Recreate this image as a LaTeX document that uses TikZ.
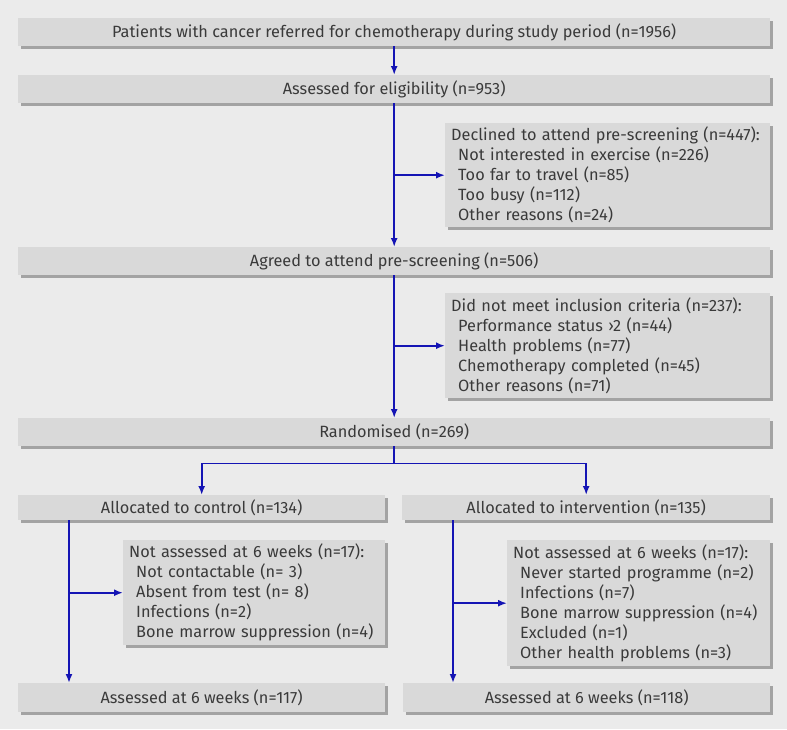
\documentclass[tikz,border=0pt]{standalone}
\usepackage{fontspec}
\setmainfont{Fira Sans}
\usetikzlibrary{arrows.meta,positioning,calc,shadows}
\definecolor{bgG}{HTML}{EBEBEB}
\definecolor{boxG}{HTML}{D9D9D9}
\definecolor{shdG}{HTML}{A3A3A3}
\definecolor{flowB}{HTML}{1414B4}
\definecolor{txtG}{HTML}{3A3A3A}
\newcommand{\boxfont}{\fontsize{16.3}{20}\selectfont}
\newcommand{\reason}{\hspace*{7pt}}
\tikzset{
  stage/.style={fill=boxG, text=txtG, inner sep=0pt, anchor=north west, font=\boxfont,
    drop shadow={shadow xshift=3pt, shadow yshift=-3pt, fill=shdG, opacity=1}},
  wide/.style={stage, minimum width=752, minimum height=28},
  half/.style={stage, minimum width=367, minimum height=#1},
  listbox/.style={stage, align=left, inner xsep=6pt},
  flow/.style={-{Latex[length=9pt,width=7pt]}, line width=1.8pt, flowB},
  link/.style={line width=1.8pt, flowB},
}

\begin{document}
\begin{tikzpicture}[x=1pt,y=-1pt]
\useasboundingbox[fill=bgG] (0,0) rectangle (787,729);

% ===================== enrolment ========================
\node[wide] (screened) at (18,18) {Patients with cancer referred for chemotherapy during study period (n=1956)};
\node[wide] (eligible) at (18,75) {Assessed for eligibility (n=953)};
\node[listbox, text width=313, minimum height=104] (declined) at (445,123)
  {Declined to attend pre-screening (n=447):\\
   \reason Not interested in exercise (n=226)\\
   \reason Too far to travel (n=85)\\
   \reason Too busy (n=112)\\
   \reason Other reasons (n=24)};
\node[wide] (agreed) at (18,247) {Agreed to attend pre-screening (n=506)};
\node[listbox, text width=313, minimum height=105] (excluded) at (445,293)
  {Did not meet inclusion criteria (n=237):\\
   \reason Performance status ›2 (n=44)\\
   \reason Health problems (n=77)\\
   \reason Chemotherapy completed (n=45)\\
   \reason Other reasons (n=71)};
\node[wide] (randomised) at (18,418) {Randomised (n=269)};

% ===================== allocation ========================
\node[half=25] (control) at (18,495) {Allocated to control (n=134)};
\node[half=25, minimum width=368] (intervention) at (402,495) {Allocated to intervention (n=135)};
\node[listbox, text width=250, minimum height=105] (lostC) at (123,540)
  {Not assessed at 6 weeks (n=17):\\
   \reason Not contactable (n= 3)\\
   \reason Absent from test (n= 8)\\
   \reason Infections (n=2)\\
   \reason Bone marrow suppression (n=4)};
\node[listbox, text width=251, minimum height=126] (lostI) at (507,540)
  {Not assessed at 6 weeks (n=17):\\
   \reason Never started programme (n=2)\\
   \reason Infections (n=7)\\
   \reason Bone marrow suppression (n=4)\\
   \reason Excluded (n=1)\\
   \reason Other health problems (n=3)};
\node[half=29] (assessC) at (18,683) {Assessed at 6 weeks (n=117)};
\node[half=29] (assessI) at (403,683) {Assessed at 6 weeks (n=118)};

% ===================== connectors ========================
\draw[flow] (screened) -- (eligible);
\draw[flow] (eligible) -- (agreed);
\draw[flow] (eligible.south |- declined.west) -- (declined.west);
\draw[flow] (agreed) -- (randomised);
\draw[flow] (agreed.south |- excluded.west) -- (excluded.west);
\coordinate (split) at ($(randomised.south)+(0,17)$);
\draw[link] (randomised.south) -- (split);
\draw[flow] (split) -| (control.north);
\draw[flow] (split) -| (intervention.north);
\draw[flow] ([xshift=51pt]control.south west) -- ([xshift=51pt]assessC.north west);
\draw[flow] ([xshift=51pt]control.south west |- lostC.west) -- (lostC.west);
\draw[flow] ([xshift=51pt]intervention.south west) -- ([xshift=50pt]assessI.north west);
\draw[flow] ([xshift=51pt]intervention.south west |- lostI.west) -- (lostI.west);

\end{tikzpicture}
\end{document}
